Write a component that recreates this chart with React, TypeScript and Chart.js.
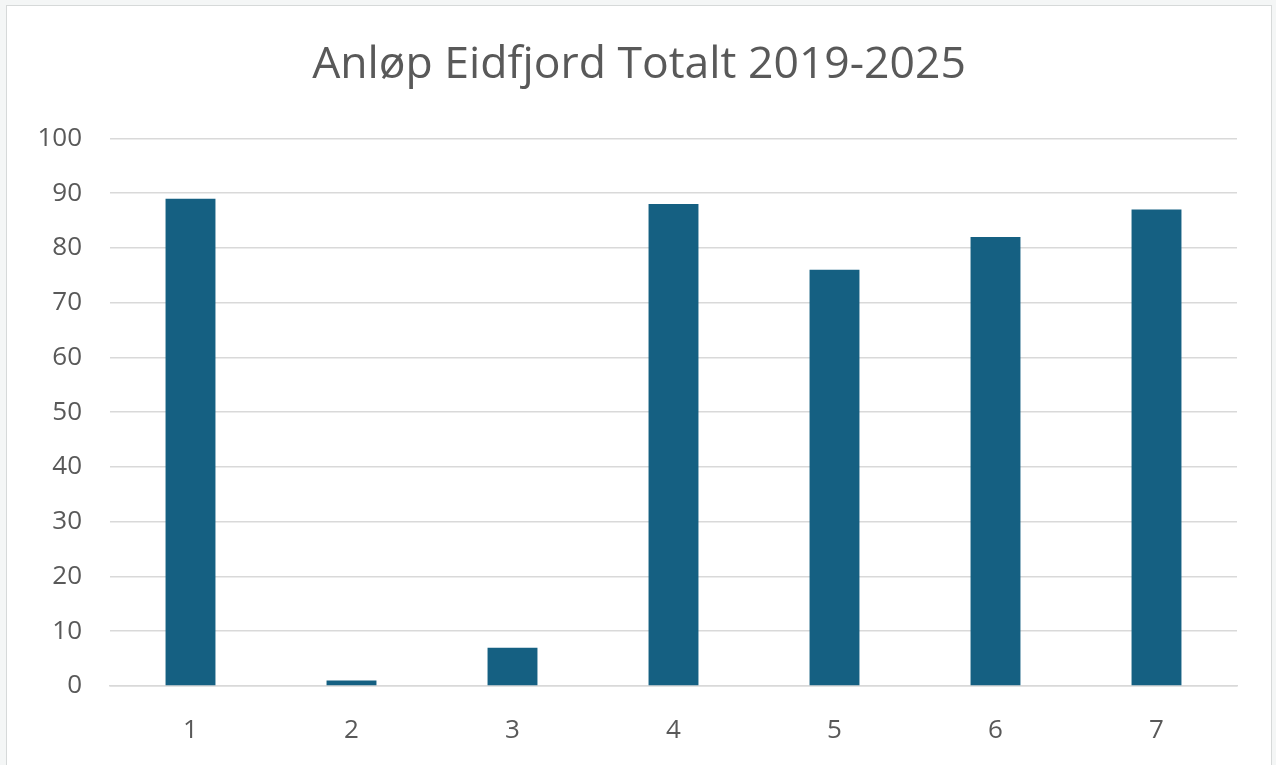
import React, { useEffect, useRef } from "react";
import { Chart, registerables } from "chart.js";

Chart.register(...registerables);

const categories = ["1", "2", "3", "4", "5", "6", "7"];
const values = [89, 1, 7, 88, 76, 82, 87];
const yTicks = [0, 10, 20, 30, 40, 50, 60, 70, 80, 90, 100];
const titleText = "Anløp Eidfjord Totalt 2019-2025";

const FONT = "'Open Sans', 'Liberation Sans', Arial, sans-serif";

export default function App() {
  const ref = useRef<HTMLCanvasElement | null>(null);

  useEffect(() => {
    if (!ref.current) return;
    const chart = new Chart(ref.current, {
      type: "bar",
      data: {
        labels: categories,
        datasets: [
          {
            data: values,
            backgroundColor: "#156082",
            borderWidth: 0,
            barPercentage: 0.31,
            categoryPercentage: 1,
          },
        ],
      },
      options: {
        animation: false,
        responsive: false,
        maintainAspectRatio: false,
        layout: { padding: 0 },
        plugins: {
          legend: { display: false },
          tooltip: { enabled: false },
          title: {
            display: true,
            text: titleText,
            color: "#595959",
            font: { family: FONT, size: 44.5, weight: "normal" },
            lineHeight: 1.2,
            padding: { top: 33, bottom: 46 },
          },
        },
        scales: {
          x: {
            grid: { display: false, drawTicks: false },
            border: { display: true, color: "#d9d9d9", width: 1.5 },
            ticks: {
              color: "#595959",
              font: { family: FONT, size: 26 },
              padding: 29,
            },
            afterFit: (s: any) => {
              s.height = 100;
            },
          },
          y: {
            min: 0,
            max: 100,
            afterBuildTicks: (s: any) => {
              s.ticks = yTicks.map((v) => ({ value: v }));
            },
            grid: { color: "#d9d9d9", drawTicks: false, lineWidth: 1.5 },
            border: { display: false },
            ticks: {
              color: "#595959",
              font: { family: FONT, size: 26 },
              padding: 28,
            },
            afterFit: (s: any) => {
              s.width = 103;
            },
          },
          yPad: {
            position: "right",
            display: true,
            min: 0,
            max: 100,
            grid: { display: false, drawTicks: false },
            border: { display: false },
            ticks: { display: false },
            afterFit: (s: any) => {
              s.width = 34;
            },
          },
        },
      },
    });
    return () => chart.destroy();
  }, []);

  return (
    <div
      style={{
        position: "fixed",
        left: 0,
        top: 0,
        width: "100vw",
        height: "100vh",
        overflow: "hidden",
        background: "#f4f6f6",
      }}
    >
      <div
        style={{
          position: "absolute",
          left: 6,
          top: 5,
          width: 1264,
          height: 780,
          border: "1px solid #d6d9d9",
          background: "#ffffff",
        }}
      >
        <canvas ref={ref} width={1264} height={780} style={{ display: "block" }} />
      </div>
    </div>
  );
}
